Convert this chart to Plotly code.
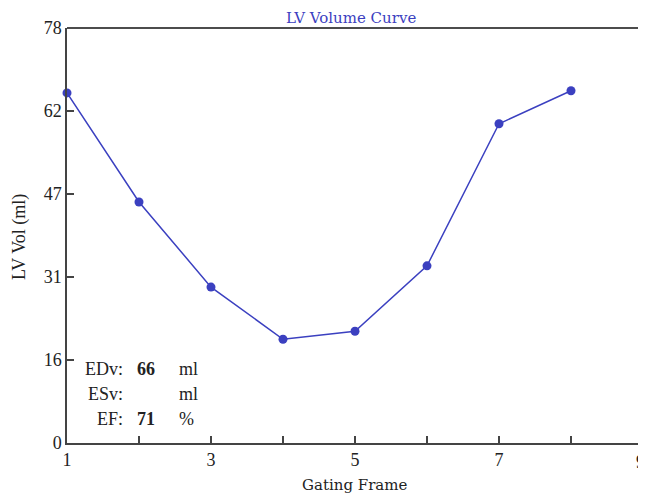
import plotly.graph_objects as go

frames = [1, 2, 3, 4, 5, 6, 7, 8]
volumes = [65.8, 45.3, 29.3, 19.5, 21.0, 33.3, 60.0, 66.2]

y_tickvals = [0, 15.6, 31.2, 46.8, 62.4, 78]
y_ticktext = ["0", "16", "31", "47", "62", "78"]
x_tickvals = [1, 2, 3, 4, 5, 6, 7, 8, 9]
x_ticktext = ["1", "", "3", "", "5", "", "7", "", ""]
edge_label = "9"

stat_labels = ["EDv:", "ESv:", "EF:"]
stat_values = ["66", "", "71"]
stat_units = ["ml", "ml", "%"]

blue = "#3b40c0"
serif = "Liberation Serif, Times New Roman, serif"
slab = "DejaVu Serif, serif"
OFF = 8  # page body margin offset
# plot area in reference pixel coordinates
L, R, T, B = 67, 643, 28, 443
W = R - L
H = B - T


def px(x):
    return (x - L) / W


def py(y):
    return 1 - (y - T) / H


fig = go.Figure()
fig.add_trace(go.Scatter(
    x=frames, y=volumes, mode="lines+markers",
    line=dict(color=blue, width=1.5),
    marker=dict(color=blue, size=9),
    showlegend=False, cliponaxis=False,
))

rows_y = [369, 394, 419]
ann = []
for lab, val, unit, ry in zip(stat_labels, stat_values, stat_units, rows_y):
    ann.append(dict(text=lab, x=px(125), y=py(ry), xref="paper", yref="paper",
                    xanchor="right", yanchor="middle", showarrow=False,
                    font=dict(family=serif, size=18, color="#222")))
    if val:
        ann.append(dict(text="<b>" + val + "</b>", x=px(135), y=py(ry), xref="paper", yref="paper",
                        xanchor="left", yanchor="middle", showarrow=False,
                        font=dict(family=serif, size=18, color="#222")))
    ann.append(dict(text=unit, x=px(177), y=py(ry), xref="paper", yref="paper",
                    xanchor="left", yanchor="middle", showarrow=False,
                    font=dict(family=serif, size=18, color="#222")))

ann.append(dict(text="LV Vol (ml)", textangle=-90, x=px(19), y=py(237), xref="paper", yref="paper",
                xanchor="center", yanchor="middle", showarrow=False,
                font=dict(family=serif, size=18, color="#222")))
ann.append(dict(text="Gating Frame", x=px(355), y=py(485), xref="paper", yref="paper",
                xanchor="center", yanchor="middle", showarrow=False,
                font=dict(family=slab, size=15, color="#222")))
ann.append(dict(text="LV Volume Curve", x=px(351), y=py(18), xref="paper", yref="paper",
                xanchor="center", yanchor="middle", showarrow=False,
                font=dict(family=slab, size=15, color=blue)))
ann.append(dict(text=edge_label, x=px(634), y=py(462), xref="paper", yref="paper",
                xanchor="left", yanchor="middle", showarrow=False,
                font=dict(family=serif, size=18, color="#222")))

fig.update_layout(
    width=646, height=498,
    margin=dict(l=L - OFF, r=646 - (R - OFF), t=T - OFF, b=498 - (B - OFF), autoexpand=False),
    paper_bgcolor="white", plot_bgcolor="white",
    xaxis=dict(range=[1, 9], tickvals=x_tickvals, ticktext=x_ticktext, automargin=False,
               ticks="inside", ticklen=7, tickwidth=1.5, tickcolor="#444",
               showline=True, linecolor="#444", linewidth=1.5, mirror=False,
               showgrid=False, zeroline=False,
               tickfont=dict(family=serif, size=18, color="#222")),
    yaxis=dict(range=[0, 78], tickvals=y_tickvals, ticktext=y_ticktext, automargin=False,
               ticks="inside", ticklen=7, tickwidth=1.5, tickcolor="#444",
               showline=True, linecolor="#444", linewidth=1.5,
               showgrid=False, zeroline=False,
               tickfont=dict(family=serif, size=18, color="#222")),
    annotations=ann,
    shapes=[
        dict(type="line", xref="paper", yref="paper", x0=0, x1=1, y0=1, y1=1,
             line=dict(color="#111", width=1.5)),
        dict(type="line", xref="paper", yref="paper", x0=1, x1=1, y0=0, y1=1,
             line=dict(color="#bbb", width=1)),
    ],
)

fig.write_html("out.html")
